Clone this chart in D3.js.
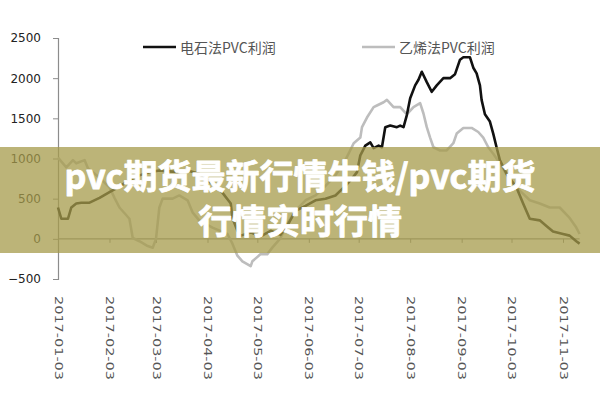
<!DOCTYPE html>
<html><head><meta charset="utf-8">
<script src="https://cdn.jsdelivr.net/npm/d3@7"></script>
<style>html,body{margin:0;padding:0;background:#fff;}svg{display:block;}</style>
</head><body>
<svg id="c" width="600" height="400"></svg>
<script>
// ---- data ----
const seriesNames = ["电石法PVC利润", "乙烯法PVC利润"];
const xTickLabels = ["2017-01-03","2017-02-03","2017-03-03","2017-04-03","2017-05-03","2017-06-03","2017-07-03","2017-08-03","2017-09-03","2017-10-03","2017-11-03"];
const yTickValues = [-500, 0, 500, 1000, 1500, 2000, 2500];

const carbideDates = ["2017-01-03","2017-01-05","2017-01-09","2017-01-11","2017-01-14","2017-01-17","2017-01-22","2017-01-28","2017-02-03","2017-02-09","2017-02-15","2017-02-21","2017-02-27","2017-03-05","2017-03-11","2017-03-17","2017-03-22","2017-03-29","2017-04-03","2017-04-11","2017-04-17","2017-04-18","2017-04-21","2017-04-23","2017-04-29","2017-05-05","2017-05-11","2017-05-17","2017-05-21","2017-05-26","2017-06-01","2017-06-07","2017-06-13","2017-06-19","2017-06-25","2017-06-29","2017-07-02","2017-07-04","2017-07-07","2017-07-10","2017-07-12","2017-07-15","2017-07-17","2017-07-19","2017-07-22","2017-07-26","2017-07-28","2017-07-30","2017-08-01","2017-08-03","2017-08-06","2017-08-08","2017-08-10","2017-08-13","2017-08-16","2017-08-19","2017-08-23","2017-08-27","2017-08-30","2017-09-02","2017-09-04","2017-09-08","2017-09-10","2017-09-12","2017-09-14","2017-09-15","2017-09-17","2017-09-20","2017-09-22","2017-09-24","2017-09-26","2017-09-30","2017-10-06","2017-10-10","2017-10-14","2017-10-20","2017-10-24","2017-10-28","2017-11-03","2017-11-07","2017-11-11","2017-11-13"];
const carbideValues = [390,250,250,390,440,450,450,510,580,650,730,790,830,850,840,830,850,810,730,600,440,260,100,40,80,30,100,50,160,350,410,480,500,540,660,750,830,1040,1160,1200,1130,1160,1140,1390,1410,1390,1410,1390,1540,1750,1910,1980,2080,1950,1830,1910,2000,2000,2050,2230,2260,2260,2130,2060,1910,1730,1550,1460,1310,1140,980,810,640,440,250,230,160,90,60,40,-30,-60];

const ethyleneDates = ["2017-01-03","2017-01-08","2017-01-12","2017-01-14","2017-01-19","2017-01-21","2017-01-28","2017-02-03","2017-02-06","2017-02-09","2017-02-15","2017-02-17","2017-02-21","2017-02-26","2017-03-01","2017-03-03","2017-03-05","2017-03-07","2017-03-13","2017-03-17","2017-03-22","2017-03-25","2017-03-29","2017-04-06","2017-04-15","2017-04-18","2017-04-21","2017-04-24","2017-04-29","2017-04-30","2017-05-05","2017-05-09","2017-05-12","2017-05-17","2017-05-21","2017-05-26","2017-06-01","2017-06-07","2017-06-13","2017-06-19","2017-06-25","2017-06-30","2017-07-04","2017-07-05","2017-07-08","2017-07-12","2017-07-14","2017-07-18","2017-07-20","2017-07-24","2017-07-28","2017-08-01","2017-08-05","2017-08-09","2017-08-11","2017-08-13","2017-08-15","2017-08-17","2017-08-21","2017-08-25","2017-08-29","2017-08-31","2017-09-04","2017-09-09","2017-09-13","2017-09-16","2017-09-19","2017-09-22","2017-09-26","2017-10-02","2017-10-08","2017-10-14","2017-10-20","2017-10-26","2017-11-01","2017-11-07","2017-11-11","2017-11-13"];
const ethyleneValues = [1010,890,980,940,980,880,760,640,510,390,250,10,-30,-90,-110,0,390,500,500,540,480,330,230,140,60,-60,-210,-280,-340,-280,-190,-190,-110,10,190,350,480,540,660,790,980,1190,1260,1390,1510,1640,1660,1700,1730,1640,1640,1550,1640,1690,1560,1390,1260,1140,1100,1100,1190,1310,1380,1380,1330,1260,1140,1060,940,730,600,480,440,390,390,260,140,60];

const bannerLines = ["pvc期货最新行情牛钱/pvc期货", "行情实时行情"];

// ---- drawing ----
const svg = d3.select("#c");
const parse = d3.timeParse("%Y-%m-%d");
const x = d3.scaleTime().domain([parse(xTickLabels[0]), parse(xTickLabels[xTickLabels.length-1])]).range([58, 563]);
const y = d3.scaleLinear().domain([-500, 2500]).range([279, 38]);

// y axis
const yAxis = svg.append("g").attr("transform", "translate(58,0)")
  .call(d3.axisLeft(y).tickValues(yTickValues).tickSize(5).tickPadding(12).tickFormat(d3.format("d")));
yAxis.select(".domain").attr("stroke", "#8c8c8c").attr("stroke-width", 1.2);
yAxis.selectAll(".tick line").attr("stroke", "#8c8c8c");
yAxis.selectAll(".tick text").attr("font-family", "DejaVu Sans, sans-serif").attr("font-size", 12).attr("fill", "#222");

// x axis at zero
const xAxis = svg.append("g").attr("transform", `translate(0,${y(0)})`)
  .call(d3.axisBottom(x).tickValues(xTickLabels.map(parse)).tickSize(4).tickFormat(""));
xAxis.select(".domain").attr("stroke", "#8c8c8c").attr("stroke-width", 1.2).attr("d", `M58,0H${x(parse("2017-11-13"))}`);
xAxis.selectAll(".tick line").attr("stroke", "#8c8c8c");

// rotated x labels
svg.append("g").selectAll("text").data(xTickLabels).join("text")
  .attr("x", d => x(parse(d)))
  .attr("y", 296)
  .attr("transform", d => `rotate(90,${x(parse(d))},296)`)
  .attr("dominant-baseline", "central")
  .attr("font-family", "DejaVu Sans, sans-serif")
  .attr("font-size", 11)
  .attr("textLength", 84)
  .attr("lengthAdjust", "spacingAndGlyphs")
  .attr("fill", "#555")
  .text(d => d);

// lines
const line = d3.line().x(d => x(d[0])).y(d => y(d[1]));
const ethData = ethyleneDates.map((d, i) => [parse(d), ethyleneValues[i]]);
const carData = carbideDates.map((d, i) => [parse(d), carbideValues[i]]);
svg.append("path").datum(ethData).attr("d", line).attr("fill", "none")
  .attr("stroke", "#bdbdbd").attr("stroke-width", 2.6).attr("stroke-linejoin", "round");
svg.append("path").datum(carData).attr("d", line).attr("fill", "none")
  .attr("stroke", "#111").attr("stroke-width", 2.6).attr("stroke-linejoin", "round");

// legend
const legend = [
  {name: seriesNames[0], color: "#111", x0: 143},
  {name: seriesNames[1], color: "#bdbdbd", x0: 362}
];
const lg = svg.append("g").selectAll("g").data(legend).join("g");
lg.append("line").attr("x1", d => d.x0).attr("x2", d => d.x0 + 33).attr("y1", 47).attr("y2", 47)
  .attr("stroke", d => d.color).attr("stroke-width", 2.6);
lg.append("text").attr("x", d => d.x0 + 37).attr("y", 47).attr("dominant-baseline", "central")
  .attr("font-family", "Noto Sans CJK SC, sans-serif").attr("font-size", 14).attr("fill", "#555")
  .text(d => d.name);

// banner overlay
svg.append("rect").attr("x", 0).attr("y", 147).attr("width", 600).attr("height", 106)
  .attr("fill", "rgb(165,155,75)").attr("fill-opacity", 0.75);
const bt = svg.append("text")
  .attr("text-anchor", "middle")
  .attr("font-family", "Noto Sans CJK SC, sans-serif").attr("font-weight", 700)
  .attr("font-size", 34).attr("fill", "#fff")
  .attr("stroke", "#fff").attr("stroke-width", 0.8).attr("stroke-linejoin", "round");
bt.selectAll("tspan").data(bannerLines).join("tspan")
  .attr("x", 300).attr("y", (d, i) => 189 + i * 45)
  .text(d => d);
</script>
</body></html>
